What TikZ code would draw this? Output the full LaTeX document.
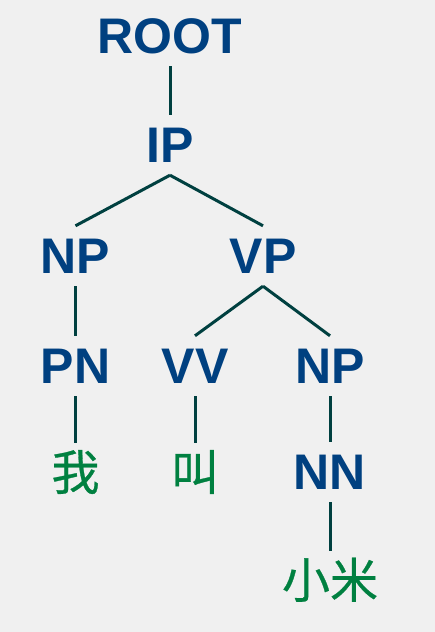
\documentclass[tikz,border=0pt]{standalone}
\usepackage{fontspec}
\setmainfont{Liberation Sans}
\newfontfamily\cjk[FakeBold=0.6]{Noto Sans CJK SC}
\definecolor{bgc}{RGB}{240,240,240}
\definecolor{tagc}{RGB}{0,64,128}
\definecolor{linec}{RGB}{0,64,64}
\definecolor{wordc}{RGB}{0,128,64}
\begin{document}
\begin{tikzpicture}[x=1pt,y=1pt,
  tag/.style={anchor=base,text=tagc,font=\fontsize{50}{50}\selectfont\bfseries,
    text height=36pt,text depth=0pt,inner xsep=0pt,inner ysep=12pt},
  word/.style={anchor=base,text=wordc,font=\fontsize{48}{48}\selectfont\cjk,
    text height=40pt,text depth=0pt,inner xsep=0pt,inner ysep=7pt},
  edge/.style={draw=linec,line width=3pt}]
\fill[bgc] (0,0) rectangle (435,632);
\useasboundingbox (0,0) rectangle (435,632);
% y = 632 - pixel baseline
\node[tag] (root) at (170,578) {ROOT};
\node[tag] (ip)   at (170,469) {IP};
\node[tag] (np1)  at (75.5,358)  {NP};
\node[tag] (vp)   at (263,358) {VP};
\node[tag] (pn)   at (75.5,248)  {PN};
\node[tag] (vv)   at (195,248) {VV};
\node[tag] (np2)  at (330,248) {NP};
\node[word] (wo)  at (75.5,142)  {我};
\node[word] (jiao) at (195,142) {叫};
\node[tag] (nn)   at (330,142) {NN};
\node[word] (xm)  at (330,34)  {小米};
\draw[edge] (root.south) -- (ip.north);
\draw[edge] (ip.south) -- (np1.north);
\draw[edge] (ip.south) -- (vp.north);
\draw[edge] (np1.south) -- (pn.north);
\draw[edge] (vp.south) -- (vv.north);
\draw[edge] (vp.south) -- (np2.north);
\draw[edge] (pn.south) -- (wo.north);
\draw[edge] (vv.south) -- (jiao.north);
\draw[edge] (np2.south) -- (nn.north);
\draw[edge] (nn.south) -- (xm.north);
\end{tikzpicture}
\end{document}
